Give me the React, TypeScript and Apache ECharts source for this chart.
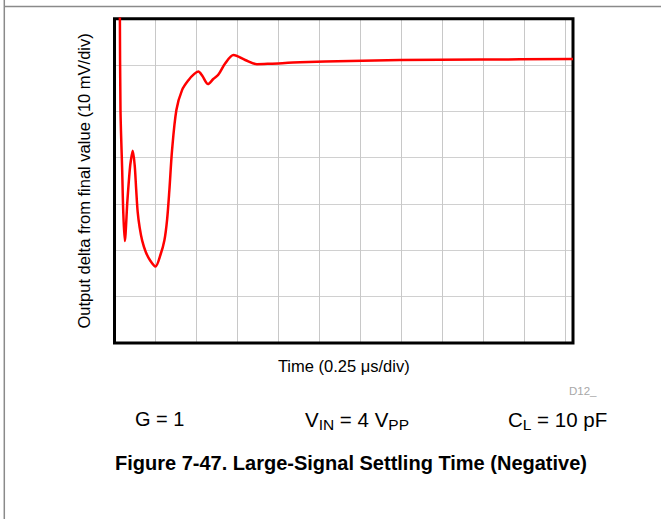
import React, { useEffect, useRef } from "react";
import * as echarts from "echarts";

// Time in divisions (0.25 µs/div)
const timeDiv = [
  0.129, 0.146, 0.187, 0.212, 0.251, 0.316, 0.372, 0.401, 0.445, 0.492, 0.529, 0.565, 0.614, 0.675,
  0.76, 0.87, 0.999, 1.119, 1.217, 1.282, 1.338, 1.404, 1.509, 1.647, 1.808, 1.946, 2.044, 2.141,
  2.28, 2.409, 2.53, 2.701, 2.903, 3.187, 3.472, 3.796, 4.526, 5.742, 6.959, 8.905, 11.18,
];
// Output delta in divisions (10 mV/div), 0 = bottom of plot
const deltaDiv = [
  7.5, 5.03, 3.74, 2.87, 2.2, 3.09, 3.74, 3.95, 4.15, 3.84, 3.31, 2.83, 2.49, 2.21,
  1.97, 1.78, 1.65, 1.9, 2.22, 2.66, 3.3, 4.17, 5.03, 5.46, 5.68, 5.81, 5.86, 5.77,
  5.59, 5.7, 5.79, 6.04, 6.22, 6.11, 6.02, 6.03, 6.06, 6.09, 6.11, 6.12, 6.13,
];

const xTitle = "Time (0.25 μs/div)";
const yTitle = "Output delta from final value (10 mV/div)";
const figTitle = "Figure 7-47. Large-Signal Settling Time (Negative)";

export default function App() {
  const ref = useRef<HTMLDivElement>(null);
  useEffect(() => {
    if (!ref.current) return;
    const chart = echarts.init(ref.current, null, { renderer: "svg" });
    const font = "'Liberation Sans', Arial, sans-serif";
    chart.setOption({
      animation: false,
      backgroundColor: "#ffffff",
      grid: {
        left: 114.5,
        top: 18.8,
        right: 88,
        bottom: 176,
        show: true,
        borderColor: "#000000",
        borderWidth: 3,
        backgroundColor: "transparent",
        z: 3,
      },
      xAxis: {
        type: "value",
        min: 0,
        max: 11.18,
        interval: 1,
        axisLine: { show: false },
        axisTick: { show: false },
        axisLabel: { show: false },
        splitLine: { show: true, showMinLine: false, showMaxLine: false, lineStyle: { color: "#c8c8c8", width: 1 } },
        name: xTitle,
        nameLocation: "middle",
        nameGap: 14,
        nameTextStyle: { fontFamily: font, fontSize: 16.5, color: "#000", verticalAlign: "top" },
      },
      yAxis: {
        type: "value",
        min: 0,
        max: 7,
        interval: 1,
        axisLine: { show: false },
        axisTick: { show: false },
        axisLabel: { show: false },
        splitLine: { show: true, showMinLine: false, showMaxLine: false, lineStyle: { color: "#d0d0d0", width: 1 } },
        name: yTitle,
        nameLocation: "middle",
        nameGap: 22,
        nameTextStyle: { fontFamily: font, fontSize: 16.5, color: "#000" },
      },
      series: [
        {
          type: "line",
          data: timeDiv.map((t, i) => [t, deltaDiv[i]]),
          showSymbol: false,
          smooth: 0.3,
          clip: true,
          z: 4,
          lineStyle: { color: "#ff0000", width: 2.5 },
        },
      ],
      graphic: [
        { type: "line", shape: { x1: 4.3, y1: 0, x2: 4.3, y2: 519 }, style: { stroke: "#8a8a8a", lineWidth: 1.5 } },
        { type: "line", shape: { x1: 4, y1: 6.5, x2: 661, y2: 6.5 }, style: { stroke: "#8a8a8a", lineWidth: 1.5 } },
        {
          type: "text",
          left: 569,
          top: 385,
          style: { text: "D12_", fontFamily: font, fontSize: 11.5, fill: "#a8a8a8" },
        },
        {
          type: "text",
          x: 135,
          y: 419,
          style: { text: "G = 1", fontFamily: font, fontSize: 20, fill: "#000", textVerticalAlign: "middle" },
        },
        {
          type: "text",
          x: 305,
          y: 419,
          style: {
            text: "V{s|IN} = 4 V{s|PP}",
            fontFamily: font,
            fontSize: 20.5,
            fill: "#000",
            textVerticalAlign: "middle",
            rich: { s: { fontFamily: font, fontSize: 15.5, fill: "#000", padding: [11, 0, 0, 0] } },
          },
        },
        {
          type: "text",
          x: 508,
          y: 419,
          style: {
            text: "C{s|L} = 10 pF",
            fontFamily: font,
            fontSize: 20.5,
            fill: "#000",
            textVerticalAlign: "middle",
            rich: { s: { fontFamily: font, fontSize: 15.5, fill: "#000", padding: [11, 0, 0, 0] } },
          },
        },
        {
          type: "text",
          x: 351,
          y: 463,
          style: {
            text: figTitle,
            fontFamily: "'Liberation Sans Narrow', 'Liberation Sans', Arial, sans-serif",
            fontWeight: "bold",
            fontSize: 20,
            fill: "#000",
            textAlign: "center",
            textVerticalAlign: "middle",
          },
        },
      ],
    });
    return () => chart.dispose();
  }, []);
  return (
    <div
      ref={ref}
      style={{ position: "absolute", left: 0, top: 0, width: 661, height: 519 }}
    />
  );
}
